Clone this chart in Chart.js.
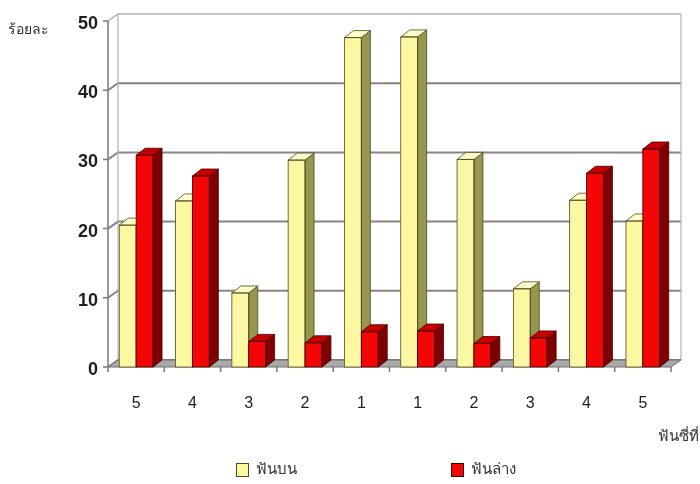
<!DOCTYPE html>
<html>
<head>
<meta charset="utf-8">
<script src="https://cdn.jsdelivr.net/npm/chart.js@4"></script>
<style>
  html, body { margin: 0; padding: 0; background: #ffffff; }
  #wrap { width: 700px; height: 484px; position: relative; }
</style>
</head>
<body>
<div id="wrap"><canvas id="c" width="700" height="484"></canvas></div>
<script>
// Tooth positions (5..1 on one side, 1..5 on the other)
const toothLabels = ['5', '4', '3', '2', '1', '1', '2', '3', '4', '5'];
// Percentages for upper and lower teeth
const upperTeeth = [20.5, 24.0, 10.7, 29.9, 47.6, 47.7, 30.0, 11.3, 24.1, 21.1];
const lowerTeeth = [30.6, 27.6, 3.7, 3.5, 5.1, 5.2, 3.4, 4.2, 28.0, 31.5];
const yTicks = [0, 10, 20, 30, 40, 50];
const seriesNames = ['ฟันบน', 'ฟันล่าง'];
const yTitle = 'ร้อยละ';
const xTitle = 'ฟันซี่ที่';

const THAI_FONT = '"Noto Sans", "DejaVu Sans", sans-serif';
const DEPTH_X = 10;   // 3D depth offset to the right
const DEPTH_Y = 7;    // 3D depth offset upward
const BAR_DX = 9;
const BAR_DY = 7;

const palette = [
  { front: '#fbf7a2', side: '#97964f', top: '#fdfbc9', edge: '#4d4b1c' },
  { front: '#f20606', side: '#7e0000', top: '#c40000', edge: '#4a0000' }
];

// Back wall, side wall, floor and gridlines for the 3D look
const wallsPlugin = {
  id: 'walls',
  beforeDatasetsDraw(chart) {
    const { ctx, chartArea: a, scales: { y } } = chart;
    const L = a.left, R = a.right, B = a.bottom;
    const T = y.getPixelForValue(50);
    ctx.save();

    // gridlines on side and back wall
    yTicks.forEach(v => {
      const py = y.getPixelForValue(v);
      ctx.strokeStyle = v === 50 ? '#b0b0b0' : '#858585';
      ctx.lineWidth = v === 50 ? 1.5 : 2;
      ctx.beginPath();
      ctx.moveTo(L, py);
      ctx.lineTo(L + DEPTH_X, py - DEPTH_Y);
      ctx.lineTo(R + DEPTH_X, py - DEPTH_Y);
      ctx.stroke();
    });

    // back wall edges
    ctx.strokeStyle = '#b4b4b4';
    ctx.lineWidth = 1.2;
    ctx.beginPath();
    ctx.moveTo(L + DEPTH_X, T - DEPTH_Y);
    ctx.lineTo(L + DEPTH_X, B - DEPTH_Y);
    ctx.moveTo(R + DEPTH_X, T - DEPTH_Y);
    ctx.lineTo(R + DEPTH_X, B - DEPTH_Y);
    ctx.stroke();

    // floor
    ctx.fillStyle = '#a9a9a9';
    ctx.strokeStyle = '#6e6e6e';
    ctx.lineWidth = 1;
    ctx.beginPath();
    ctx.moveTo(L, B);
    ctx.lineTo(R, B);
    ctx.lineTo(R + DEPTH_X, B - DEPTH_Y);
    ctx.lineTo(L + DEPTH_X, B - DEPTH_Y);
    ctx.closePath();
    ctx.fill();
    ctx.stroke();

    // front vertical axis with tick marks
    ctx.strokeStyle = '#7a7a7a';
    ctx.lineWidth = 1.5;
    ctx.beginPath();
    ctx.moveTo(L, T);
    ctx.lineTo(L, B);
    yTicks.forEach(v => {
      const py = y.getPixelForValue(v);
      ctx.moveTo(L - 5, py);
      ctx.lineTo(L, py);
    });
    // category boundary ticks on the floor edge
    const n = toothLabels.length;
    const step = (R - L) / n;
    for (let i = 0; i <= n; i++) {
      const px = L + step * i;
      ctx.moveTo(px, B);
      ctx.lineTo(px, B + 5);
    }
    ctx.stroke();
    ctx.restore();
  }
};

// Full 3D boxes for every bar, drawn category by category so that the
// lower-teeth bar sits in front of the upper-teeth bar's side face
const barDepthPlugin = {
  id: 'barDepth',
  afterDatasetsDraw(chart) {
    const { ctx } = chart;
    const metas = [chart.getDatasetMeta(0), chart.getDatasetMeta(1)];
    ctx.save();
    ctx.lineWidth = 0.8;
    for (let i = 0; i < toothLabels.length; i++) {
      metas.forEach((meta, d) => {
        const col = palette[d];
        const p = meta.data[i].getProps(['x', 'y', 'base', 'width'], true);
        const l = p.x - p.width / 2, r = p.x + p.width / 2;
        const t = p.y, b = p.base;
        ctx.strokeStyle = col.edge;
        // front
        ctx.fillStyle = col.front;
        ctx.fillRect(l, t, r - l, b - t);
        // side
        ctx.fillStyle = col.side;
        ctx.beginPath();
        ctx.moveTo(r, t);
        ctx.lineTo(r + BAR_DX, t - BAR_DY);
        ctx.lineTo(r + BAR_DX, b - BAR_DY);
        ctx.lineTo(r, b);
        ctx.closePath();
        ctx.fill();
        ctx.stroke();
        // top
        ctx.fillStyle = col.top;
        ctx.beginPath();
        ctx.moveTo(l, t);
        ctx.lineTo(l + BAR_DX, t - BAR_DY);
        ctx.lineTo(r + BAR_DX, t - BAR_DY);
        ctx.lineTo(r, t);
        ctx.closePath();
        ctx.fill();
        ctx.stroke();
        ctx.strokeRect(l, t, r - l, b - t);
      });
    }
    ctx.restore();
  }
};

// Titles and legend
const textPlugin = {
  id: 'texts',
  afterDraw(chart) {
    const { ctx } = chart;
    ctx.save();
    ctx.fillStyle = '#333333';
    ctx.textBaseline = 'middle';
    ctx.textAlign = 'left';
    ctx.font = '14px ' + THAI_FONT;
    ctx.fillText(yTitle, 8, 30);
    ctx.font = '15px ' + THAI_FONT;
    ctx.textAlign = 'right';
    ctx.fillText(xTitle, 699, 437);

    // legend
    const items = [
      { x: 236, text: seriesNames[0], col: palette[0] },
      { x: 451, text: seriesNames[1], col: palette[1] }
    ];
    ctx.textAlign = 'left';
    ctx.font = '15px ' + THAI_FONT;
    items.forEach(it => {
      ctx.fillStyle = it.col.front;
      ctx.fillRect(it.x, 463, 12, 13);
      ctx.strokeStyle = it.col.edge;
      ctx.lineWidth = 1;
      ctx.strokeRect(it.x + 0.5, 463.5, 12, 13);
      ctx.fillStyle = '#333333';
      ctx.fillText(it.text, it.x + 20, 470);
    });
    ctx.restore();
  }
};

new Chart(document.getElementById('c'), {
  type: 'bar',
  data: {
    labels: toothLabels,
    datasets: [
      {
        label: seriesNames[0],
        data: upperTeeth,
        backgroundColor: palette[0].front,
        borderWidth: 0,
        categoryPercentage: 0.6,
        barPercentage: 1.0
      },
      {
        label: seriesNames[1],
        data: lowerTeeth,
        backgroundColor: palette[1].front,
        borderWidth: 0,
        categoryPercentage: 0.6,
        barPercentage: 1.0
      }
    ]
  },
  options: {
    responsive: false,
    animation: false,
    devicePixelRatio: 1,
    layout: { padding: { left: 0, right: 29, top: 21, bottom: 0 } },
    plugins: {
      legend: { display: false },
      tooltip: { enabled: false }
    },
    scales: {
      x: {
        grid: { display: false, drawTicks: false },
        border: { display: false },
        ticks: {
          padding: 27,
          color: '#1e1e1e',
          font: { family: 'Liberation Sans, Arial, sans-serif', size: 16 }
        },
        afterFit(scale) { scale.height = 117; }
      },
      y: {
        min: 0,
        max: 50,
        grid: { display: false, drawTicks: false },
        border: { display: false },
        ticks: {
          stepSize: 10,
          padding: 10,
          labelOffset: 3,
          color: '#1e1e1e',
          font: { family: 'Liberation Sans, Arial, sans-serif', size: 18, weight: 'bold' }
        },
        afterFit(scale) { scale.width = 108; }
      }
    }
  },
  plugins: [wallsPlugin, barDepthPlugin, textPlugin]
});
</script>
</body>
</html>
